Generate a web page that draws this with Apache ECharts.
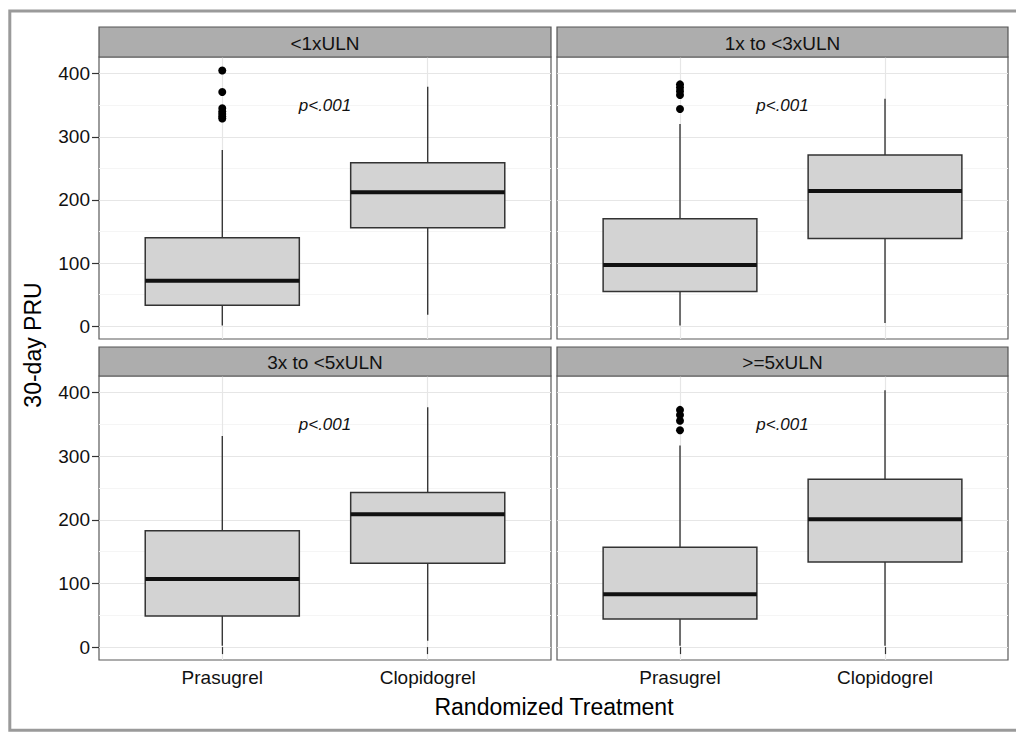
<!DOCTYPE html>
<html><head><meta charset="utf-8">
<script src="https://cdn.jsdelivr.net/npm/echarts@6/dist/echarts.min.js"></script>
<style>html,body{margin:0;padding:0;background:#fff}#c{width:1016px;height:732px}</style>
</head><body><div id="c"></div>
<script>
// ---- data ----
const facets = ['<1xULN', '1x to <3xULN', '3x to <5xULN', '>=5xULN'];
const treatments = ['Prasugrel', 'Clopidogrel'];
const yTicks = [0, 100, 200, 300, 400];
const yMinorTicks = [50, 150, 250, 350];
// [lower whisker, Q1, median, Q3, upper whisker] per facet
const prasugrelStats = [
  [1, 33, 72, 140, 279],
  [1, 55, 97, 170, 320],
  [2, 49, 107, 183, 332],
  [2, 44, 83, 157, 317]
];
const clopidogrelStats = [
  [18, 156, 212, 259, 379],
  [5, 139, 214, 271, 360],
  [10, 132, 209, 243, 377],
  [2, 134, 201, 264, 404]
];
const prasugrelOutliers = [
  [405, 371, 345, 340, 336, 332, 329],
  [383, 378, 372, 366, 344],
  [],
  [373, 365, 356, 341]
];
const clopidogrelOutliers = [[], [], [], []];
const pLabels = ['p<.001', 'p<.001', 'p<.001', 'p<.001'];
const pLabelY = 350;
const xTitle = 'Randomized Treatment';
const yTitle = '30-day PRU';

// ---- layout / style ----
const FONT = '"Liberation Sans", Arial, Helvetica, sans-serif';
const yMin = -20.3, yMax = 426.3;
const grids = [
  {left: 99, top: 57, width: 452, height: 282},
  {left: 557, top: 57, width: 451, height: 282},
  {left: 99, top: 376, width: 452, height: 284},
  {left: 557, top: 376, width: 451, height: 284}
];
const stripTops = [27, 27, 347, 347];

function renderBox(params, api) {
  const x = api.value(0);
  const lo = api.coord([x, api.value(1)]);
  const q1 = api.coord([x, api.value(2)]);
  const md = api.coord([x, api.value(3)]);
  const q3 = api.coord([x, api.value(4)]);
  const hi = api.coord([x, api.value(5)]);
  const halfW = api.size([0.75, 0])[0] / 2;
  const cx = lo[0];
  const ws = {stroke: '#2a2a2a', lineWidth: 1.3};
  return {type: 'group', children: [
    {type: 'line', shape: {x1: cx, y1: hi[1], x2: cx, y2: q3[1]}, style: ws},
    {type: 'line', shape: {x1: cx, y1: q1[1], x2: cx, y2: lo[1]}, style: ws},
    {type: 'rect', shape: {x: cx - halfW, y: q3[1], width: 2 * halfW, height: q1[1] - q3[1]},
      style: {fill: '#D3D3D3', stroke: '#333', lineWidth: 1.5}},
    {type: 'line', shape: {x1: cx - halfW, y1: md[1], x2: cx + halfW, y2: md[1]},
      style: {stroke: '#111', lineWidth: 4}}
  ]};
}

const xAxes = [], yAxes = [], series = [], graphics = [];
grids.forEach((g, i) => {
  const bottom = i >= 2, left = i % 2 === 0;
  xAxes.push({
    gridIndex: i, type: 'value', min: 0.4, max: 2.6,
    axisLine: {show: false},
    axisTick: {show: bottom, customValues: [1, 2], length: 7, lineStyle: {color: '#333', width: 1.2}},
    axisLabel: {show: bottom, customValues: [1, 2], margin: 8, fontSize: 19, color: '#111', fontFamily: FONT,
      formatter: v => treatments[Math.round(v) - 1] || ''},
    splitLine: {show: true, lineStyle: {color: '#E6E6E6', width: 1.2}}
  });
  yAxes.push({
    gridIndex: i, type: 'value', min: yMin, max: yMax,
    axisLine: {show: false},
    axisTick: {show: left, customValues: yTicks, length: 7, lineStyle: {color: '#333', width: 1.2}},
    axisLabel: {show: left, customValues: yTicks, margin: 9, fontSize: 19, color: '#111', fontFamily: FONT},
    splitLine: {show: true, lineStyle: {color: '#E6E6E6', width: 1.2}}
  });
  yAxes.push({
    gridIndex: i, type: 'value', min: yMin, max: yMax,
    axisLine: {show: false},
    axisTick: {show: false, customValues: yMinorTicks},
    axisLabel: {show: false, customValues: yMinorTicks},
    splitLine: {show: true, lineStyle: {color: '#F5F5F5', width: 1}}
  });
  const yIdx = i * 2;
  series.push({
    type: 'custom', xAxisIndex: i, yAxisIndex: yIdx, renderItem: renderBox,
    encode: {x: 0, y: [1, 2, 3, 4, 5]},
    data: [[1, ...prasugrelStats[i]], [2, ...clopidogrelStats[i]]], z: 3
  });
  series.push({
    type: 'scatter', xAxisIndex: i, yAxisIndex: yIdx, symbol: 'circle', symbolSize: 8,
    itemStyle: {color: '#000', opacity: 1},
    data: prasugrelOutliers[i].map(v => [1, v]).concat(clopidogrelOutliers[i].map(v => [2, v])), z: 4
  });
  series.push({
    type: 'scatter', xAxisIndex: i, yAxisIndex: yIdx, symbolSize: 0,
    itemStyle: {opacity: 1},
    label: {show: true, position: 'inside', formatter: pLabels[i], fontSize: 17, fontStyle: 'italic',
      color: '#111', fontFamily: FONT},
    data: [[1.5, pLabelY]], z: 5, silent: true
  });
  // strip
  graphics.push({
    type: 'rect', shape: {x: g.left, y: stripTops[i], width: g.width, height: g.top - stripTops[i]},
    style: {fill: '#ADADAD', stroke: '#555', lineWidth: 1.2}, z: 10
  });
  graphics.push({
    type: 'text', x: g.left + g.width / 2, y: stripTops[i] + (g.top - stripTops[i]) / 2 + 1,
    style: {text: facets[i], fontSize: 19, fontFamily: FONT, fill: '#111', align: 'center', verticalAlign: 'middle'}, z: 11
  });
});
graphics.push({
  type: 'text', x: 554, y: 707,
  style: {text: xTitle, fontSize: 23, fontFamily: FONT, fill: '#000', align: 'center', verticalAlign: 'middle'}
});
graphics.push({
  type: 'text', x: 33, y: 345, rotation: Math.PI / 2,
  style: {text: yTitle, fontSize: 23, fontFamily: FONT, fill: '#000', align: 'center', verticalAlign: 'middle'}
});
graphics.push({
  type: 'rect', shape: {x: 9.8, y: 11, width: 1030, height: 719.3},
  style: {fill: 'none', stroke: '#9A9A9A', lineWidth: 3}
});

const chart = echarts.init(document.getElementById('c'), null, {renderer: 'svg'});
chart.setOption({
  backgroundColor: '#fff',
  animation: false,
  grid: grids.map(g => Object.assign({show: true, borderColor: '#5A5A5A', borderWidth: 1.2, backgroundColor: '#fff'}, g)),
  xAxis: xAxes,
  yAxis: yAxes,
  series: series,
  graphic: graphics
});
</script></body></html>
